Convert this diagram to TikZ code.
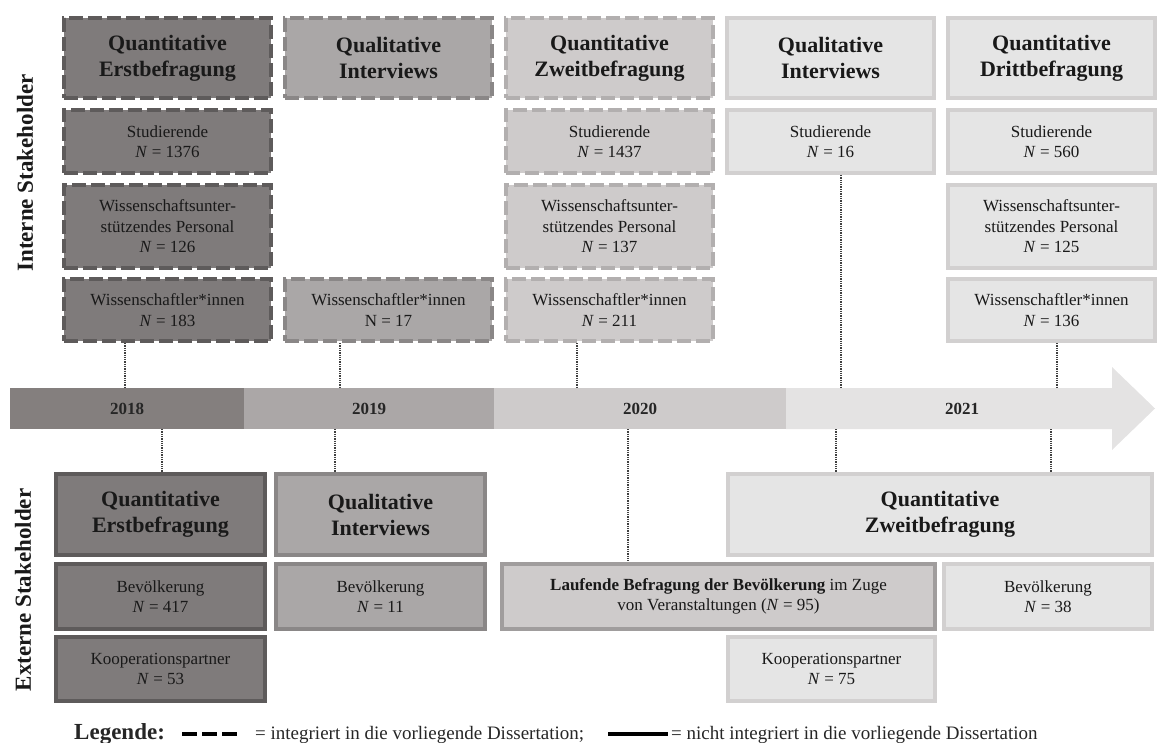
\documentclass[tikz,border=0pt]{standalone}
\usepackage{fontspec}
\setmainfont{Liberation Serif}
\usetikzlibrary{positioning}
\definecolor{fill18}{RGB}{127,123,123}
\definecolor{line18}{RGB}{94,91,91}
\definecolor{fill19}{RGB}{170,167,167}
\definecolor{line19}{RGB}{138,135,135}
\definecolor{fill20}{RGB}{206,203,203}
\definecolor{line20}{RGB}{178,175,175}
\definecolor{fill21}{RGB}{229,229,229}
\definecolor{line21}{RGB}{210,208,208}
\definecolor{lauflinie}{RGB}{160,157,157}
\definecolor{bar18}{RGB}{132,127,126}
\definecolor{bar19}{RGB}{171,167,167}
\definecolor{bar20}{RGB}{206,203,203}
\definecolor{bar21}{RGB}{228,227,227}
\tikzstyle{box}=[rectangle, draw, line width=4pt, align=center, inner sep=0pt, text=black!90, minimum width=207pt]
\tikzstyle{kopf}=[box, font=\fontsize{22}{26}\selectfont\bfseries, minimum height=80pt]
\tikzstyle{zelle}=[box, font=\fontsize{17}{20.5}\selectfont]
\tikzstyle{integriert}=[dash pattern=on 14pt off 5pt]
\tikzstyle{jahr18}=[fill=fill18, draw=line18]
\tikzstyle{jahr19}=[fill=fill19, draw=line19]
\tikzstyle{jahr20}=[fill=fill20, draw=line20]
\tikzstyle{jahr21}=[fill=fill21, draw=line21]
\tikzstyle{zeit}=[rectangle, inner sep=0pt, outer sep=0pt, minimum height=41pt, text=black!85, font=\fontsize{17}{20}\selectfont\bfseries]
\tikzstyle{seite}=[rotate=90, text=black!90, font=\fontsize{23}{26}\selectfont\bfseries]
\tikzstyle{legtext}=[anchor=base west, inner sep=0pt, text=black!85, font=\fontsize{19}{22}\selectfont]
\tikzstyle{verbindung}=[densely dotted, line width=1.3pt, black!75]
\begin{document}
\begin{tikzpicture}[x=1pt, y=-1pt]
		\useasboundingbox (0,0) rectangle (1159,743);
		
		\node (intern) [seite] at (25,173) {Interne Stakeholder};
		\node (extern) [seite] at (23,590) {Externe Stakeholder};
		
		\node (qe) [kopf, jahr18, integriert, anchor=north west] at (62,16) {Quantitative\\Erstbefragung};
		\node (qe-stud) [zelle, jahr18, integriert, minimum height=63pt, below=8pt of qe] {Studierende\\\textit{N} = 1376};
		\node (qe-wup) [zelle, jahr18, integriert, minimum height=83pt, below=8pt of qe-stud] {Wissenschaftsunter-\\stützendes Personal\\\textit{N} = 126};
		\node (qe-wiss) [zelle, jahr18, integriert, minimum height=62pt, below=7pt of qe-wup] {Wissenschaftler*innen\\\textit{N} = 183};
		
		\node (qi) [kopf, jahr19, integriert, right=10pt of qe] {Qualitative\\Interviews};
		\node (qi-wiss) [zelle, jahr19, integriert, minimum height=62pt] at (qi |- qe-wiss) {Wissenschaftler*innen\\N = 17};
		
		\node (qz) [kopf, jahr20, integriert, right=10pt of qi] {Quantitative\\Zweitbefragung};
		\node (qz-stud) [zelle, jahr20, integriert, minimum height=63pt, below=8pt of qz] {Studierende\\\textit{N} = 1437};
		\node (qz-wup) [zelle, jahr20, integriert, minimum height=83pt, below=8pt of qz-stud] {Wissenschaftsunter-\\stützendes Personal\\\textit{N} = 137};
		\node (qz-wiss) [zelle, jahr20, integriert, minimum height=62pt, below=7pt of qz-wup] {Wissenschaftler*innen\\\textit{N} = 211};
		
		\node (qi2) [kopf, jahr21, right=10pt of qz] {Qualitative\\Interviews};
		\node (qi2-stud) [zelle, jahr21, minimum height=63pt, below=8pt of qi2] {Studierende\\\textit{N} = 16};
		
		\node (qd) [kopf, jahr21, right=10pt of qi2] {Quantitative\\Drittbefragung};
		\node (qd-stud) [zelle, jahr21, minimum height=63pt, below=8pt of qd] {Studierende\\\textit{N} = 560};
		\node (qd-wup) [zelle, jahr21, minimum height=83pt, below=8pt of qd-stud] {Wissenschaftsunter-\\stützendes Personal\\\textit{N} = 125};
		\node (qd-wiss) [zelle, jahr21, minimum height=62pt, below=7pt of qd-wup] {Wissenschaftler*innen\\\textit{N} = 136};
		
		\node (t18) [zeit, fill=bar18, minimum width=234pt, anchor=west] at (10,408.5) {2018};
		\node (t19) [zeit, fill=bar19, minimum width=250pt, right=0pt of t18] {2019};
		\node (t20) [zeit, fill=bar20, minimum width=292pt, right=0pt of t19] {2020};
		\fill[bar21] (t20.north east) -- (1112,388) -- (1112,367) -- (1155,408.5) -- (1112,450) -- (1112,429) -- (t20.south east) -- cycle;
		\node (t21) [zeit] at (962,408.5) {2021};
		
		\node (ext-qe) [kopf, jahr18, minimum width=209pt, minimum height=81pt, anchor=north west] at (54,472) {Quantitative\\Erstbefragung};
		\node (ext-qe-bev) [zelle, jahr18, minimum width=209pt, minimum height=65pt, below=5pt of ext-qe] {Bevölkerung\\\textit{N} = 417};
		\node (ext-qe-koop) [zelle, jahr18, minimum width=209pt, minimum height=64pt, below=4pt of ext-qe-bev] {Kooperationspartner\\\textit{N} = 53};
		\node (ext-qi) [kopf, jahr19, minimum width=209pt, minimum height=81pt, right=7pt of ext-qe] {Qualitative\\Interviews};
		\node (ext-qi-bev) [zelle, jahr19, minimum width=209pt, minimum height=65pt, below=5pt of ext-qi] {Bevölkerung\\\textit{N} = 11};
		\node (ext-lauf) [zelle, fill=fill20, draw=lauflinie, minimum width=433pt, minimum height=65pt, anchor=north west] at (500,562) {\textbf{Laufende Befragung der Bevölkerung} im Zuge\\von Veranstaltungen (\textit{N} = 95)};
		\node (ext-qz) [kopf, jahr21, minimum width=424pt, minimum height=81pt, anchor=north west] at (726,472) {Quantitative\\Zweitbefragung};
		\node (ext-qz-bev) [zelle, jahr21, minimum width=208pt, minimum height=65pt, below left=5pt and 0pt of ext-qz.south east] {Bevölkerung\\\textit{N} = 38};
		\node (ext-koop) [zelle, jahr21, minimum width=207pt, minimum height=64pt, below left=4pt and 0pt of ext-lauf.south east] {Kooperationspartner\\\textit{N} = 75};
		
		\coordinate (oa) at (125,388);
		\coordinate (ob) at (340,388);
		\coordinate (oc) at (577,388);
		\coordinate (od) at (841,388);
		\coordinate (oe) at (1057,388);
		\coordinate (ua) at (162,429);
		\coordinate (ub) at (335,429);
		\coordinate (uc) at (628,429);
		\coordinate (ud) at (836,429);
		\coordinate (ue) at (1051,429);
		
		\draw[verbindung] (qe-wiss.south -| oa) -- (oa);
		\draw[verbindung] (qi-wiss.south -| ob) -- (ob);
		\draw[verbindung] (qz-wiss.south -| oc) -- (oc);
		\draw[verbindung] (qi2-stud.south -| od) -- (od);
		\draw[verbindung] (qd-wiss.south -| oe) -- (oe);
		\draw[verbindung] (ua) -- (ua |- ext-qe.north);
		\draw[verbindung] (ub) -- (ub |- ext-qi.north);
		\draw[verbindung] (uc) -- (uc |- ext-lauf.north);
		\draw[verbindung] (ud) -- (ud |- ext-qz.north);
		\draw[verbindung] (ue) -- (ue |- ext-qz.north);
		
		\node (legende) [legtext, font=\fontsize{23}{26}\selectfont\bfseries] at (74,739) {Legende:};
		\draw[line width=4pt, dash pattern=on 15pt off 5pt] (182,734) -- (241,734);
		\node (leg-ja) [legtext] at (255,739) {= integriert in die vorliegende Dissertation;};
		\draw[line width=4pt] (608,734) -- (668,734);
		\node (leg-nein) [legtext] at (671,739) {= nicht integriert in die vorliegende Dissertation};
		
\end{tikzpicture}
\end{document}
